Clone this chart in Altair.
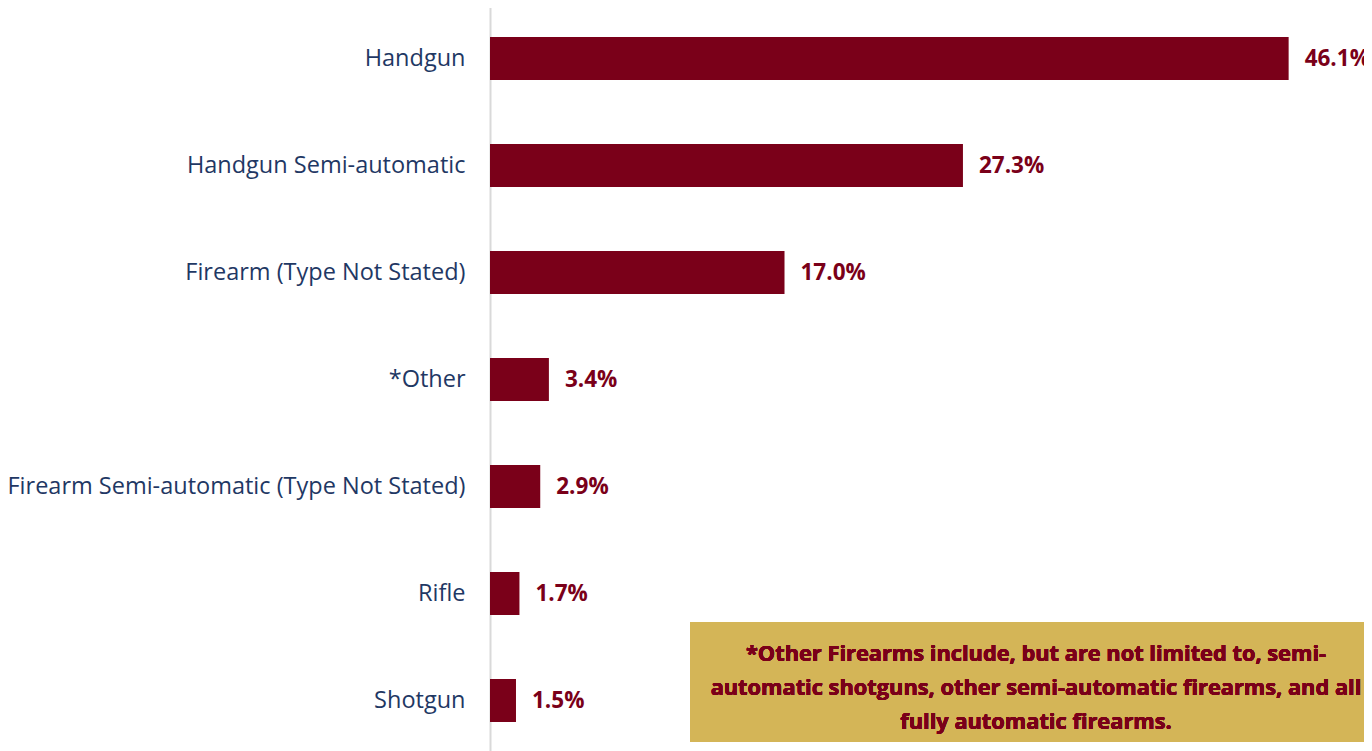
import altair as alt
import pandas as pd

categories = ["Handgun", "Handgun Semi-automatic", "Firearm (Type Not Stated)", "*Other",
              "Firearm Semi-automatic (Type Not Stated)", "Rifle", "Shotgun"]
values = [46.1, 27.3, 17.0, 3.4, 2.9, 1.7, 1.5]
labels = ["46.1%", "27.3%", "17.0%", "3.4%", "2.9%", "1.7%", "1.5%"]
note_lines = ["*Other Firearms include, but are not limited to, semi-",
              "automatic shotguns, other semi-automatic firearms, and all",
              "fully automatic firearms."]

df = pd.DataFrame({"cat": categories, "val": values, "lab": labels})

FONT = "Open Sans"
RED = "#7A0019"
NAVY = "#1F3864"

y_enc = alt.Y("cat:N", sort=categories,
              scale=alt.Scale(paddingInner=0.6, paddingOuter=0.3),
              axis=alt.Axis(title=None, ticks=False, domain=True, domainColor="#d9d9d9",
                            domainWidth=2, labelFont=FONT, labelFontSize=23.5, labelColor=NAVY,
                            labelPadding=25, labelLimit=600, grid=False))
x_enc = alt.X("val:Q", scale=alt.Scale(domain=[0, 50.45], nice=False), axis=None)

bars = alt.Chart(df).mark_bar(color=RED).encode(y=y_enc, x=x_enc)
text = alt.Chart(df).mark_text(align="left", baseline="middle", dx=16, font=FONT,
                               fontSize=22.5, fontWeight="bold", color=RED).encode(
    y=alt.Y("cat:N", sort=categories), x="val:Q", text="lab:N")

box = alt.Chart(df).mark_rect(color="#D4B557").encode(
    x=alt.value(200), x2=alt.value(890), y=alt.value(617), y2=alt.value(737))
note = alt.Chart(df).mark_text(text=note_lines, align="center", baseline="middle",
                               font=FONT, fontSize=21.8, fontWeight="bold", color=RED,
                               lineHeight=34).encode(
    x=alt.value(546), y=alt.value(649))

chart = alt.layer(bars, text, box, note).properties(
    width=874, height=749,
    autosize=alt.AutoSizeParams(type="none"),
    padding={"left": 482, "top": -3, "right": 0, "bottom": 0},
).configure_view(stroke=None)

chart.save("out.html", embed_options={"renderer": "svg", "actions": False})
